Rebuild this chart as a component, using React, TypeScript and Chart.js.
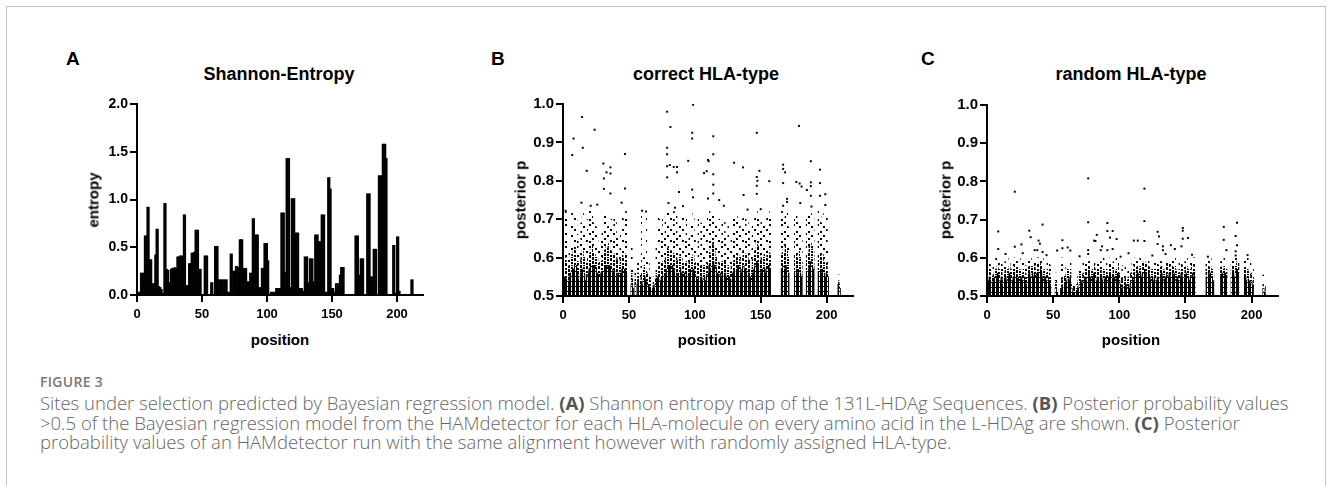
import React, { useEffect, useRef } from 'react';
import { Chart, registerables } from 'chart.js';

Chart.register(...registerables);

// ---------------- DATA ----------------
const positionTicks = [0, 50, 100, 150, 200];
const entropyTicks = [0, 0.5, 1.0, 1.5, 2.0];
const posteriorTicks = [0.5, 0.6, 0.7, 0.8, 0.9, 1.0];

// Shannon entropy per alignment position (0..214)
const entropy = [
  0.03, 0.03, 0.03, 0.23, 0.23, 0.23, 0.62, 0.62, 0.92, 0.92,
  0.37, 0.37, 0.12, 0.12, 0.42, 0.69, 0.69, 0.09, 0.08, 0.06,
  0.02, 0.96, 0.96, 0.27, 0.26, 0.13, 0.27, 0.28, 0.28, 0.29,
  0.28, 0.40, 0.40, 0.41, 0.41, 0.41, 0.84, 0.84, 0.10, 0.10,
  0.33, 0.33, 0.44, 0.44, 0.45, 0.68, 0.68, 0.68, 0.27, 0.27,
  0, 0, 0.41, 0.41, 0.41, 0, 0, 0.13, 0.13, 0,
  0.51, 0.51, 0.51, 0.16, 0.16, 0.16, 0.16, 0.16, 0.16, 0.16,
  0.03, 0.03, 0.43, 0.43, 0.25, 0.25, 0.30, 0.30, 0.29, 0.58,
  0.58, 0.58, 0.28, 0.28, 0.28, 0.14, 0.14, 0.23, 0.23, 0.80,
  0.80, 0.63, 0.63, 0.63, 0.08, 0.08, 0.28, 0.28, 0.54, 0.54,
  0.54, 0.36, 0, 0.03, 0.03, 0.03, 0.03, 0.07, 0.07, 0.07,
  0.07, 0.86, 0.86, 0.86, 0.24, 1.43, 1.43, 1.43, 0.08, 1.01,
  1.01, 1.01, 0.65, 0.65, 0.65, 0.07, 0.07, 0.07, 0.04, 0.40,
  0.40, 0.40, 0.13, 0.38, 0.38, 0.38, 0.14, 0.63, 0.63, 0.63,
  0.56, 0.56, 0.84, 0.84, 0.84, 0.03, 0.03, 1.23, 1.23, 1.11,
  0.07, 0.07, 0.03, 0.12, 0.12, 0.12, 0.21, 0.29, 0.29, 0.29,
  0, 0, 0, 0, 0, 0, 0, 0, 0.62, 0.62,
  0.62, 0.21, 0.38, 0.38, 0.38, 0, 0, 1.06, 1.06, 1.06,
  0.19, 0.19, 0.48, 0.48, 0.48, 0, 1.25, 1.25, 1.25, 1.58,
  1.58, 1.58, 1.43, 0, 0, 0, 0, 0.52, 0.52, 0.02,
  0.61, 0.61, 0.04, 0, 0, 0, 0, 0, 0, 0,
  0, 0.16, 0.16, 0, 0,
];

const N = null;

// correct HLA-type: per position, top of the dense band, of the dotted band and of the sparse band
const denseB = [
  0.54, 0.55, 0.55, 0.54, 0.53, 0.55, 0.56, 0.57, 0.57, 0.58,
  0.58, 0.56, 0.54, 0.55, 0.57, 0.57, 0.56, 0.54, 0.55, 0.56,
  0.57, 0.58, 0.58, 0.57, 0.58, 0.57, 0.56, 0.55, 0.55, 0.56,
  0.56, 0.57, 0.58, 0.58, 0.57, 0.58, 0.57, 0.57, 0.56, 0.57,
  0.56, 0.55, 0.56, 0.55, 0.56, 0.57, 0.56, 0.57, 0.56, N,
  N, N, 0.53, 0.52, N, 0.53, N, 0.54, 0.53, 0.52,
  0.53, 0.54, 0.55, 0.54, 0.53, 0.53, 0.52, 0.52, 0.51, 0.52,
  0.53, 0.54, 0.55, 0.55, 0.54, 0.55, 0.56, 0.55, 0.56, 0.57,
  0.58, 0.58, 0.57, 0.58, 0.57, 0.56, 0.56, 0.55, 0.56, 0.57,
  0.56, 0.55, 0.56, 0.55, 0.56, 0.55, 0.56, 0.57, 0.56, 0.57,
  0.56, 0.55, 0.54, 0.55, 0.54, 0.55, 0.54, 0.55, 0.54, 0.55,
  0.56, 0.58, 0.57, 0.58, 0.59, 0.58, 0.57, 0.56, 0.55, 0.56,
  0.55, 0.56, 0.55, 0.56, 0.55, 0.54, 0.55, 0.54, 0.55, 0.56,
  0.57, 0.56, 0.57, 0.58, 0.57, 0.56, 0.57, 0.58, 0.57, 0.56,
  0.57, 0.56, 0.55, 0.54, 0.56, 0.57, 0.58, 0.59, 0.58, 0.57,
  0.56, 0.57, 0.56, 0.57, 0.56, 0.57, 0.58, 0.57, N, N,
  N, N, N, N, N, N, 0.57, 0.58, 0.57, 0.58,
  0.57, 0.56, N, N, N, N, 0.56, 0.57, 0.56, 0.57,
  0.56, 0.55, N, N, N, 0.56, 0.57, 0.58, 0.59, 0.58,
  0.57, N, N, N, 0.56, 0.57, 0.56, 0.57, 0.56, 0.55,
  0.56, 0.55, N, N, N, N, N, N, N, 0.53,
  0.52, N, N, N, N,
];
const midB = [
  0.58, 0.59, 0.60, 0.58, 0.57, 0.58, 0.60, 0.61, 0.62, 0.63,
  0.61, 0.59, 0.57, 0.58, 0.60, 0.62, 0.60, 0.57, 0.59, 0.60,
  0.61, 0.62, 0.63, 0.61, 0.61, 0.60, 0.60, 0.59, 0.58, 0.59,
  0.60, 0.61, 0.62, 0.63, 0.62, 0.64, 0.62, 0.61, 0.60, 0.61,
  0.60, 0.59, 0.60, 0.58, 0.60, 0.61, 0.60, 0.61, 0.60, N,
  N, N, 0.56, 0.54, N, 0.55, N, 0.56, 0.55, 0.54,
  0.56, 0.57, 0.58, 0.57, 0.56, 0.55, 0.54, 0.53, 0.52, 0.53,
  0.54, 0.56, 0.57, 0.58, 0.57, 0.58, 0.59, 0.58, 0.60, 0.62,
  0.63, 0.62, 0.61, 0.62, 0.61, 0.60, 0.60, 0.59, 0.60, 0.61,
  0.60, 0.59, 0.59, 0.58, 0.59, 0.58, 0.59, 0.60, 0.60, 0.61,
  0.59, 0.58, 0.57, 0.58, 0.57, 0.58, 0.56, 0.58, 0.57, 0.58,
  0.59, 0.62, 0.61, 0.63, 0.64, 0.62, 0.60, 0.59, 0.58, 0.59,
  0.58, 0.59, 0.58, 0.59, 0.58, 0.57, 0.58, 0.57, 0.58, 0.59,
  0.60, 0.59, 0.60, 0.61, 0.60, 0.59, 0.60, 0.62, 0.61, 0.60,
  0.61, 0.59, 0.58, 0.57, 0.60, 0.61, 0.62, 0.64, 0.63, 0.61,
  0.59, 0.60, 0.60, 0.61, 0.60, 0.61, 0.62, 0.61, N, N,
  N, N, N, N, N, N, 0.61, 0.62, 0.61, 0.63,
  0.62, 0.60, N, N, N, N, 0.60, 0.61, 0.60, 0.62,
  0.60, 0.58, N, N, N, 0.60, 0.61, 0.63, 0.64, 0.63,
  0.61, N, N, N, 0.60, 0.61, 0.60, 0.61, 0.59, 0.58,
  0.59, 0.57, N, N, N, N, N, N, N, 0.54,
  0.53, N, N, N, N,
];
const topB = [
  0.60, 0.62, 0.72, 0.70, 0.60, 0.62, 0.68, 0.72, 0.72, 0.71,
  0.70, 0.66, 0.62, 0.64, 0.69, 0.72, 0.71, 0.60, 0.66, 0.70,
  0.72, 0.72, 0.71, 0.69, 0.70, 0.68, 0.66, 0.64, 0.62, 0.65,
  0.68, 0.72, 0.71, 0.70, 0.68, 0.70, 0.69, 0.70, 0.68, 0.71,
  0.70, 0.66, 0.64, 0.62, 0.67, 0.72, 0.70, 0.71, 0.72, N,
  N, N, 0.64, 0.57, N, 0.58, N, 0.60, 0.58, 0.56,
  0.72, 0.60, 0.60, 0.72, 0.60, 0.59, 0.56, 0.55, 0.53, 0.55,
  0.56, 0.65, 0.71, 0.70, 0.64, 0.68, 0.71, 0.66, 0.70, 0.72,
  0.72, 0.71, 0.72, 0.70, 0.72, 0.68, 0.72, 0.66, 0.69, 0.71,
  0.68, 0.72, 0.67, 0.65, 0.70, 0.64, 0.66, 0.69, 0.71, 0.72,
  0.66, 0.62, 0.60, 0.70, 0.62, 0.69, 0.60, 0.70, 0.63, 0.69,
  0.71, 0.72, 0.70, 0.72, 0.72, 0.71, 0.69, 0.70, 0.66, 0.70,
  0.64, 0.69, 0.70, 0.66, 0.70, 0.63, 0.69, 0.62, 0.66, 0.70,
  0.71, 0.68, 0.70, 0.71, 0.69, 0.66, 0.70, 0.71, 0.70, 0.68,
  0.70, 0.67, 0.64, 0.62, 0.69, 0.70, 0.72, 0.72, 0.71, 0.70,
  0.68, 0.70, 0.71, 0.70, 0.69, 0.71, 0.72, 0.71, N, N,
  N, N, N, N, N, N, 0.72, 0.72, 0.70, 0.71,
  0.72, 0.68, N, N, N, N, 0.70, 0.72, 0.70, 0.71,
  0.69, 0.65, N, N, N, 0.70, 0.71, 0.72, 0.72, 0.71,
  0.70, N, N, N, 0.72, 0.70, 0.69, 0.72, 0.70, 0.66,
  0.72, 0.62, N, N, N, N, N, N, N, 0.555,
  0.54, N, N, N, N,
];
// isolated high posterior values (position, p)
const outliersB: [number, number][] = [
  [7, 0.867], [8, 0.91], [14.5, 0.966], [15, 0.886], [14, 0.743], [18, 0.826], [21, 0.735],
  [24, 0.933], [26, 0.738], [30.6, 0.845], [31, 0.806], [31, 0.779], [33, 0.822], [36, 0.835],
  [36, 0.819], [36, 0.767], [44.5, 0.743], [47, 0.87], [47, 0.78], [2, 0.722], [60, 0.722],
  [63, 0.72], [79, 0.98], [81.5, 0.94], [79, 0.886], [79, 0.869], [79, 0.838], [81, 0.841],
  [79, 0.809], [80, 0.742], [84, 0.836], [86.5, 0.836], [86.5, 0.822], [88, 0.771], [95, 0.852],
  [98.7, 0.998], [98, 0.925], [98, 0.91], [98, 0.777], [98.7, 0.757], [91, 0.734], [85, 0.73],
  [107, 0.82], [110, 0.854], [110.5, 0.851], [114, 0.916], [114, 0.869], [114, 0.817],
  [114, 0.79], [114, 0.767], [109, 0.825], [118.5, 0.75], [110, 0.754], [122, 0.735],
  [129.8, 0.847], [136.6, 0.835], [137, 0.763], [140, 0.725], [147, 0.925], [149, 0.826],
  [147, 0.81], [147.5, 0.8], [147, 0.787], [147, 0.766], [150, 0.726], [156.5, 0.799],
  [167, 0.842], [167, 0.831], [168.5, 0.822], [167, 0.794], [170, 0.753], [170, 0.745],
  [167, 0.735], [179, 0.943], [177, 0.797], [179.5, 0.793], [181, 0.785], [180, 0.742],
  [185, 0.776], [188, 0.851], [188, 0.796], [188, 0.786], [188, 0.761], [188.5, 0.733],
  [195, 0.829], [195, 0.794], [195, 0.761], [199, 0.765], [199, 0.737],
];

// random HLA-type
const denseC = [
  0.53, 0.54, 0.55, 0.54, 0.53, 0.54, 0.55, 0.55, 0.56, 0.55,
  0.54, 0.55, 0.53, 0.54, 0.55, 0.54, 0.55, 0.56, 0.55, 0.54,
  0.55, 0.56, 0.55, 0.54, 0.55, 0.54, 0.55, 0.54, 0.55, 0.54,
  0.53, 0.55, 0.56, 0.55, 0.56, 0.55, 0.56, 0.55, 0.56, 0.56,
  0.57, 0.56, 0.55, 0.54, 0.55, 0.54, 0.55, 0.54, 0.53, N,
  N, N, 0.52, 0.51, N, N, 0.52, 0.53, 0.52, 0.53,
  0.54, 0.55, 0.54, 0.55, 0.52, 0.51, 0.51, 0.51, 0.51, 0.52,
  0.53, 0.54, 0.53, 0.54, 0.55, 0.54, 0.55, 0.56, 0.55, 0.54,
  0.55, 0.56, 0.55, 0.54, 0.55, 0.54, 0.55, 0.54, 0.55, 0.54,
  0.55, 0.54, 0.55, 0.56, 0.55, 0.54, 0.55, 0.54, 0.55, 0.56,
  0.54, 0.53, 0.52, 0.53, 0.52, 0.53, 0.52, 0.53, 0.52, 0.54,
  0.55, 0.54, 0.56, 0.55, 0.56, 0.55, 0.56, 0.55, 0.56, 0.57,
  0.56, 0.55, 0.56, 0.55, 0.54, 0.55, 0.54, 0.55, 0.54, 0.55,
  0.54, 0.55, 0.56, 0.55, 0.54, 0.55, 0.56, 0.55, 0.56, 0.55,
  0.56, 0.55, 0.56, 0.54, 0.55, 0.54, 0.55, 0.56, 0.55, 0.54,
  0.55, 0.56, 0.55, 0.54, 0.55, 0.56, 0.55, 0.56, N, N,
  N, N, N, N, N, N, 0.55, 0.56, 0.55, 0.56,
  0.55, 0.54, N, N, N, N, N, 0.55, 0.56, 0.55,
  0.56, 0.55, N, N, N, 0.55, 0.56, 0.55, 0.56, 0.57,
  0.56, N, N, N, N, 0.55, 0.54, 0.55, 0.54, 0.53,
  0.54, 0.53, N, N, N, N, N, N, N, 0.52,
  0.51, N, N, N, N,
];
const midC = [
  0.56, 0.57, 0.57, 0.56, 0.55, 0.56, 0.57, 0.57, 0.58, 0.57,
  0.56, 0.57, 0.55, 0.56, 0.57, 0.56, 0.57, 0.58, 0.57, 0.56,
  0.57, 0.58, 0.57, 0.57, 0.57, 0.56, 0.57, 0.56, 0.57, 0.56,
  0.55, 0.57, 0.58, 0.58, 0.58, 0.57, 0.58, 0.57, 0.58, 0.58,
  0.59, 0.58, 0.57, 0.56, 0.57, 0.56, 0.57, 0.56, 0.55, N,
  N, N, 0.54, 0.53, N, N, 0.54, 0.55, 0.54, 0.55,
  0.56, 0.57, 0.56, 0.57, 0.53, 0.52, 0.52, 0.52, 0.52, 0.54,
  0.56, 0.56, 0.55, 0.56, 0.57, 0.57, 0.57, 0.58, 0.57, 0.56,
  0.57, 0.58, 0.57, 0.56, 0.57, 0.56, 0.57, 0.56, 0.57, 0.56,
  0.57, 0.56, 0.57, 0.58, 0.57, 0.56, 0.57, 0.56, 0.57, 0.58,
  0.56, 0.55, 0.54, 0.55, 0.54, 0.55, 0.54, 0.55, 0.54, 0.56,
  0.57, 0.56, 0.58, 0.57, 0.58, 0.57, 0.58, 0.57, 0.58, 0.59,
  0.58, 0.57, 0.58, 0.57, 0.56, 0.57, 0.56, 0.57, 0.56, 0.57,
  0.56, 0.57, 0.58, 0.57, 0.56, 0.57, 0.58, 0.57, 0.58, 0.57,
  0.58, 0.57, 0.58, 0.56, 0.57, 0.56, 0.57, 0.58, 0.57, 0.56,
  0.57, 0.58, 0.57, 0.56, 0.57, 0.58, 0.57, 0.58, N, N,
  N, N, N, N, N, N, 0.57, 0.58, 0.57, 0.58,
  0.57, 0.56, N, N, N, N, N, 0.57, 0.58, 0.57,
  0.58, 0.57, N, N, N, 0.57, 0.58, 0.57, 0.58, 0.59,
  0.58, N, N, N, N, 0.57, 0.56, 0.57, 0.56, 0.55,
  0.56, 0.55, N, N, N, N, N, N, N, 0.53,
  0.52, N, N, N, N,
];
const topC = [
  0.58, 0.59, 0.59, 0.58, 0.57, 0.58, 0.59, 0.60, 0.59, 0.60,
  0.58, 0.59, 0.57, 0.58, 0.59, 0.59, 0.59, 0.60, 0.58, 0.58,
  0.59, 0.60, 0.60, 0.59, 0.59, 0.58, 0.60, 0.59, 0.59, 0.58,
  0.57, 0.59, 0.60, 0.60, 0.59, 0.59, 0.60, 0.59, 0.60, 0.60,
  0.60, 0.59, 0.60, 0.58, 0.59, 0.58, 0.60, 0.59, 0.58, N,
  N, N, 0.56, 0.55, N, N, 0.58, 0.60, 0.56, 0.57,
  0.58, 0.59, 0.58, 0.60, 0.55, 0.53, 0.53, 0.52, 0.53, 0.57,
  0.59, 0.59, 0.58, 0.59, 0.59, 0.59, 0.60, 0.59, 0.59, 0.58,
  0.59, 0.59, 0.58, 0.59, 0.59, 0.58, 0.59, 0.58, 0.60, 0.59,
  0.59, 0.58, 0.60, 0.59, 0.59, 0.58, 0.59, 0.58, 0.60, 0.60,
  0.58, 0.57, 0.56, 0.58, 0.57, 0.58, 0.56, 0.58, 0.57, 0.58,
  0.59, 0.59, 0.60, 0.59, 0.60, 0.59, 0.60, 0.59, 0.60, 0.60,
  0.59, 0.59, 0.60, 0.58, 0.58, 0.59, 0.58, 0.59, 0.58, 0.59,
  0.58, 0.59, 0.59, 0.58, 0.58, 0.59, 0.60, 0.59, 0.59, 0.59,
  0.60, 0.59, 0.60, 0.58, 0.59, 0.58, 0.59, 0.59, 0.58, 0.58,
  0.59, 0.60, 0.59, 0.58, 0.59, 0.60, 0.60, 0.60, N, N,
  N, N, N, N, N, N, 0.59, 0.60, 0.59, 0.60,
  0.59, 0.58, N, N, N, N, N, 0.59, 0.60, 0.59,
  0.60, 0.58, N, N, N, 0.59, 0.60, 0.59, 0.60, 0.60,
  0.59, N, N, N, N, 0.60, 0.59, 0.60, 0.58, 0.59,
  0.58, 0.57, N, N, N, N, N, N, N, 0.555,
  0.54, N, N, N, N,
];
const outliersC: [number, number][] = [
  [21, 0.773], [8.5, 0.669], [8.5, 0.623], [21, 0.629], [26, 0.635], [32, 0.671], [33, 0.654],
  [42, 0.687], [39, 0.645], [40, 0.637], [38, 0.62], [36, 0.62], [42, 0.615], [53, 0.619],
  [57, 0.646], [57, 0.625], [61, 0.627], [63, 0.619], [76.5, 0.808], [76.5, 0.693], [76.5, 0.62],
  [76.5, 0.61], [83, 0.66], [82, 0.644], [81, 0.645], [86, 0.62], [87, 0.63], [91, 0.691],
  [91, 0.67], [95, 0.67], [93, 0.653], [98, 0.649], [91, 0.62], [95, 0.623], [107, 0.612],
  [119, 0.781], [119, 0.696], [111, 0.645], [114, 0.645], [119, 0.644], [129, 0.668],
  [130, 0.656], [129, 0.636], [133, 0.63], [133, 0.62], [139, 0.633], [142, 0.623],
  [148, 0.678], [148, 0.671], [148, 0.65], [152, 0.652], [147, 0.63], [179, 0.681],
  [179, 0.647], [181, 0.62], [189, 0.692], [188, 0.657], [189, 0.633], [188, 0.617],
  [188, 0.606], [167, 0.603], [14, 0.61], [27, 0.612], [45, 0.607], [70, 0.604],
  [101, 0.603], [125, 0.606], [135, 0.61], [155, 0.608], [197, 0.607],
];

// ---------------- STYLE HELPERS ----------------
const FONT = '"Liberation Sans", Arial, Helvetica, sans-serif';
const CAPTION_FONT = '"Open Sans", "Noto Sans", sans-serif';

function dotPattern(w: number, h: number, dots: [number, number, number, number][]) {
  const c = document.createElement('canvas');
  c.width = w;
  c.height = h;
  const g = c.getContext('2d')!;
  g.fillStyle = '#000';
  dots.forEach(([x, y, dw, dh]) => g.fillRect(x, y, dw, dh));
  return g.createPattern(c, 'repeat') as CanvasPattern;
}

function xAxis() {
  return {
    type: 'linear',
    min: 0,
    max: 220,
    offset: false,
    afterBuildTicks: (s: any) => {
      s.ticks = positionTicks.map((v) => ({ value: v }));
    },
    ticks: {
      color: '#000',
      font: { family: FONT, size: 13, weight: 'bold' },
      padding: 5,
      maxRotation: 0,
      autoSkip: false,
    },
    grid: { drawOnChartArea: false, drawTicks: true, tickLength: 7, color: '#000', lineWidth: 2, offset: false },
    border: { display: true, color: '#000', width: 2 },
    afterFit: (s: any) => {
      s.height = 35;
    },
  };
}

function yAxis(min: number, max: number, ticks: number[], width: number, size: number) {
  return {
    type: 'linear',
    min,
    max,
    afterBuildTicks: (s: any) => {
      s.ticks = ticks.map((v) => ({ value: v }));
    },
    ticks: {
      color: '#000',
      font: { family: FONT, size, weight: 'bold' },
      padding: 2,
      callback: (v: any) => Number(v).toFixed(1),
    },
    grid: { drawOnChartArea: false, drawTicks: true, tickLength: 7, color: '#000', lineWidth: 2 },
    border: { display: true, color: '#000', width: 2 },
    afterFit: (s: any) => {
      s.width = width;
    },
  };
}

const baseOptions = {
  responsive: false,
  animation: false,
  events: [],
  plugins: { legend: { display: false }, tooltip: { enabled: false }, title: { display: false } },
};

function posteriorChart(
  canvas: HTMLCanvasElement,
  dense: (number | null)[],
  mid: (number | null)[],
  top: (number | null)[],
  outliers: [number, number][],
  yWidth: number,
) {
  // nearly solid stripes
  const pDense = dotPattern(4, 5, [
    [0, 0, 3, 5], [3, 1, 1, 1], [1, 3, 1, 1],
  ]);
  pDense && 0;
  // dotted band, ~55% ink
  const pMid = dotPattern(12, 8, [
    [0, 0, 2, 2], [0, 3, 2, 3], [0, 7, 2, 1],
    [3, 1, 2, 2], [3, 4, 2, 2], [3, 7, 2, 1],
    [6, 0, 2, 3], [6, 5, 2, 2],
    [9, 2, 2, 2], [9, 5, 2, 3],
  ]);
  // sparse band, irregular dots
  const pSparse = dotPattern(12, 22, [
    [0, 0, 2, 2], [0, 9, 2, 2], [0, 16, 2, 2],
    [3, 4, 2, 2], [3, 13, 2, 2],
    [6, 7, 2, 2], [6, 18, 2, 2],
    [9, 2, 2, 2], [9, 11, 2, 2], [9, 19, 2, 2],
  ]);
  const band = (lo: (number | null)[] | null, hi: (number | null)[]) =>
    hi
      .map((v, i) => (v == null ? null : { x: i, y: [lo ? (lo[i] as number) : 0.5, v] }))
      .filter((d) => d != null);
  const barDs = (data: any[], bg: any) => ({
    type: 'bar',
    data,
    backgroundColor: bg,
    borderWidth: 0,
    grouped: false,
    barPercentage: 1,
    categoryPercentage: 1,
  });
  return new Chart(canvas, {
    type: 'bar',
    data: {
      datasets: [
        barDs(band(null, dense), pDense),
        barDs(band(dense, mid), pMid),
        barDs(band(mid, top), pSparse),
        {
          type: 'scatter',
          data: outliers.map(([x, y]) => ({ x, y })),
          pointStyle: 'rect',
          pointRadius: 1.4,
          backgroundColor: '#000',
          borderWidth: 0,
        },
      ] as any,
    },
    options: {
      ...baseOptions,
      layout: { padding: { top: 14, right: 12, left: 0, bottom: 0 } },
      scales: {
        x: xAxis(),
        y: yAxis(0.5, 1.0, posteriorTicks, yWidth, 15),
      },
    } as any,
  });
}

// ---------------- COMPONENT ----------------
const abs = (extra: React.CSSProperties): React.CSSProperties => ({ position: 'absolute', whiteSpace: 'nowrap', ...extra });

function Centered({ x, y, size, children, rotate }: { x: number; y: number; size: number; children: React.ReactNode; rotate?: boolean }) {
  return (
    <div
      style={abs({
        left: x,
        top: y,
        fontFamily: FONT,
        fontWeight: 700,
        fontSize: size,
        lineHeight: 1,
        color: '#000',
        transform: rotate ? 'translate(-50%,-50%) rotate(-90deg)' : 'translate(-50%,-50%)',
      })}
    >
      {children}
    </div>
  );
}

export default function App() {
  const refA = useRef<HTMLCanvasElement>(null);
  const refB = useRef<HTMLCanvasElement>(null);
  const refC = useRef<HTMLCanvasElement>(null);

  useEffect(() => {
    const chartA = new Chart(refA.current!, {
      type: 'bar',
      data: {
        datasets: [
          {
            data: entropy.map((v, i) => ({ x: i, y: v })),
            backgroundColor: '#000',
            borderWidth: 0,
            barPercentage: 1,
            categoryPercentage: 1,
          },
        ],
      },
      options: {
        ...baseOptions,
        layout: { padding: { top: 14, right: 12, left: 0, bottom: 0 } },
        scales: {
          x: xAxis(),
          y: yAxis(0, 2, entropyTicks, 42, 14),
        },
      } as any,
    });
    const chartB = posteriorChart(refB.current!, denseB, midB, topB, outliersB, 43);
    const chartC = posteriorChart(refC.current!, denseC, midC, topC, outliersC, 43);
    return () => {
      chartA.destroy();
      chartB.destroy();
      chartC.destroy();
    };
  }, []);

  const captionLine: React.CSSProperties = {
    fontFamily: CAPTION_FONT,
    fontSize: 18.5,
    fontWeight: 300,
    color: '#666',
    lineHeight: '19.5px',
    whiteSpace: 'nowrap',
  };
  const bold: React.CSSProperties = { fontWeight: 700, color: '#555' };

  return (
    <div style={{ position: 'absolute', left: 0, top: 0, width: 1331, height: 486, background: '#fff', overflow: 'hidden' }}>
      <div
        style={{
          position: 'absolute',
          left: 6,
          top: 6,
          width: 1320,
          height: 500,
          borderTop: '1.5px solid #c3c3c3',
          borderLeft: '1.5px solid #c3c3c3',
          borderRight: '1.5px solid #c3c3c3',
          boxSizing: 'border-box',
        }}
      />

      <canvas ref={refA} width={340} height={240} style={{ position: 'absolute', left: 95, top: 90, width: 340, height: 240 }} />
      <canvas ref={refB} width={345} height={241} style={{ position: 'absolute', left: 520, top: 90, width: 345, height: 241 }} />
      <canvas ref={refC} width={346} height={240} style={{ position: 'absolute', left: 944, top: 91, width: 346, height: 240 }} />

      <div style={abs({ left: 66, top: 58, transform: 'translateY(-50%)', fontFamily: FONT, fontWeight: 700, fontSize: 19, lineHeight: 1 })}>A</div>
      <div style={abs({ left: 491, top: 58, transform: 'translateY(-50%)', fontFamily: FONT, fontWeight: 700, fontSize: 19, lineHeight: 1 })}>B</div>
      <div style={abs({ left: 921, top: 58, transform: 'translateY(-50%)', fontFamily: FONT, fontWeight: 700, fontSize: 19, lineHeight: 1 })}>C</div>

      <Centered x={279} y={74} size={18}>Shannon-Entropy</Centered>
      <Centered x={706} y={74} size={18}>correct HLA-type</Centered>
      <Centered x={1131} y={74} size={18}>random HLA-type</Centered>

      <Centered x={93} y={200} size={15} rotate>entropy</Centered>
      <Centered x={520} y={200} size={15} rotate>posterior p</Centered>
      <Centered x={945} y={200} size={15} rotate>posterior p</Centered>

      <Centered x={280} y={339} size={15}>position</Centered>
      <Centered x={707} y={339} size={15}>position</Centered>
      <Centered x={1131} y={339} size={15}>position</Centered>

      <div
        style={abs({
          left: 40,
          top: 382,
          transform: 'translateY(-50%)',
          fontFamily: CAPTION_FONT,
          fontSize: 14,
          fontWeight: 600,
          letterSpacing: 0.3,
          lineHeight: 1,
          color: '#777',
        })}
      >
        FIGURE 3
      </div>
      <div style={abs({ left: 40, top: 393 })}>
        <div style={captionLine}>
          Sites under selection predicted by Bayesian regression model. <span style={bold}>(A)</span> Shannon entropy map of the
          131L-HDAg Sequences. <span style={bold}>(B)</span> Posterior probability values
        </div>
        <div style={captionLine}>
          &gt;0.5 of the Bayesian regression model from the HAMdetector for each HLA-molecule on every amino acid in the L-HDAg
          are shown. <span style={bold}>(C)</span> Posterior
        </div>
        <div style={captionLine}>
          probability values of an HAMdetector run with the same alignment however with randomly assigned HLA-type.
        </div>
      </div>
    </div>
  );
}
